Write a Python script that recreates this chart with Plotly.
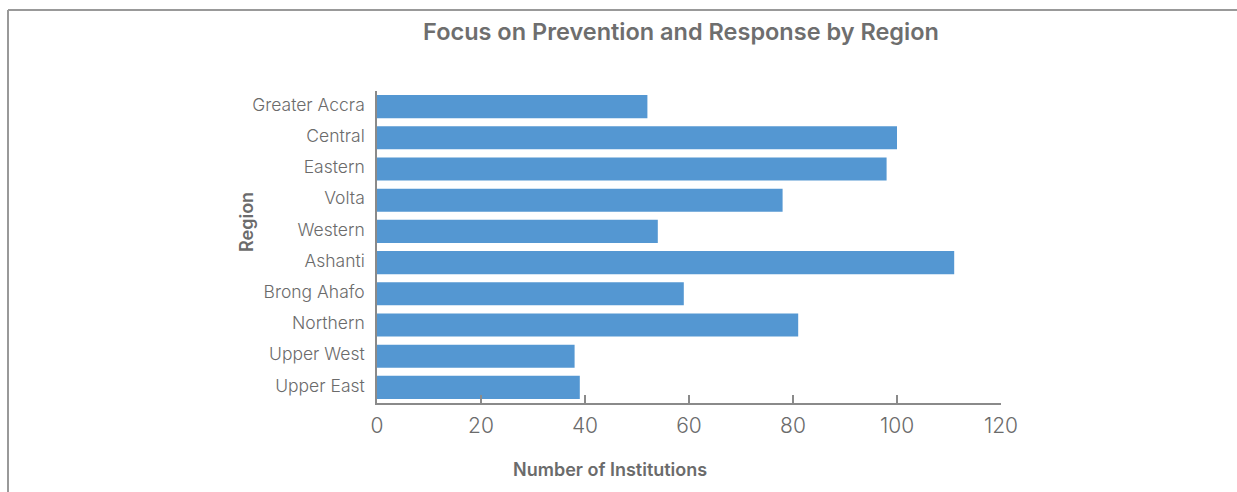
import plotly.graph_objects as go

# Institutions focusing on prevention and response, per region
regions = ["Greater Accra", "Central", "Eastern", "Volta", "Western",
           "Ashanti", "Brong Ahafo", "Northern", "Upper West", "Upper East"]
institutions = [52, 100, 98, 78, 54, 111, 59, 81, 38, 39]

x_ticks = [0, 20, 40, 60, 80, 100, 120]

W, H = 1237, 492
L, R, T, B = 377, 236, 91, 89
pw, ph = W - L - R, H - T - B


def px(x):
    return (x - L) / pw


def py(y):
    return 1 - (y - T) / ph


fig = go.Figure(go.Bar(
    x=institutions,
    y=regions,
    orientation="h",
    marker=dict(color="#5497D2", line=dict(width=0)),
    width=0.74,
))

axis_col = "#8a8a8a"
text_col = "#6b6b6b"
FONT = "Inter"

fig.update_layout(
    width=W, height=H,
    margin=dict(l=L, r=R, t=T, b=B),
    paper_bgcolor="white",
    plot_bgcolor="white",
    showlegend=False,
    font=dict(family=FONT, color=text_col),
    title=dict(
        text="Focus on Prevention and Response by Region",
        font=dict(family=FONT, size=23.5, color="#6e6e6e", weight=600),
        xref="container", x=681 / W, xanchor="center",
        yref="container", y=1 - 32 / H, yanchor="middle",
    ),
    xaxis=dict(
        range=[0, 120],
        tickvals=x_ticks,
        ticks="inside", ticklen=8, tickcolor=axis_col, tickwidth=1.5,
        showline=True, linecolor=axis_col, linewidth=2,
        showgrid=False, zeroline=False,
        tickfont=dict(family=FONT, size=21, color=text_col, weight=300),
        ticklabelstandoff=3,
    ),
    yaxis=dict(
        categoryorder="array", categoryarray=regions,
        autorange="reversed",
        showline=True, linecolor=axis_col, linewidth=1.5,
        showgrid=False, zeroline=False, ticks="",
        tickfont=dict(family=FONT, size=17.5, color=text_col, weight=300),
        ticklabelstandoff=7,
        ticklabelshift=2,
    ),
    annotations=[
        dict(text="Number of Institutions", xref="paper", yref="paper",
             x=px(610), y=py(469), xanchor="center", yanchor="middle",
             showarrow=False,
             font=dict(family=FONT, size=18, color=text_col, weight=600)),
        dict(text="Region", xref="paper", yref="paper",
             x=px(246), y=py(222), xanchor="center", yanchor="middle",
             textangle=-90, showarrow=False,
             font=dict(family=FONT, size=18, color=text_col, weight=600)),
    ],
    shapes=[
        dict(type="line", xref="paper", yref="paper",
             x0=px(8), x1=px(W + 5), y0=py(10), y1=py(10),
             line=dict(color="#999999", width=2)),
        dict(type="line", xref="paper", yref="paper",
             x0=px(8), x1=px(8), y0=py(10), y1=py(H + 5),
             line=dict(color="#999999", width=2)),
    ],
)

fig.write_html("out.html")
